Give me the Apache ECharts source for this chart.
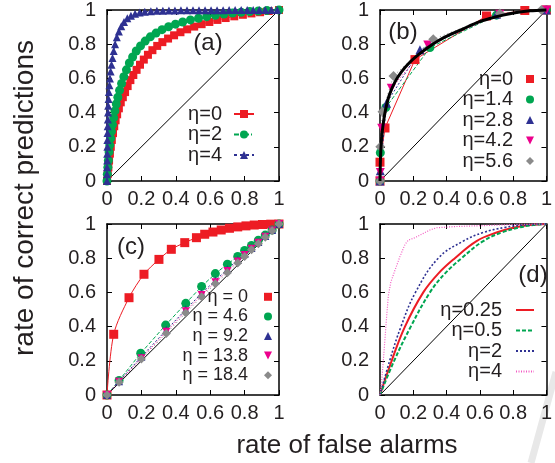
<!DOCTYPE html>
<html><head><meta charset="utf-8">
<script src="https://cdn.jsdelivr.net/npm/echarts@6/dist/echarts.min.js"></script>
<style>html,body{margin:0;padding:0;background:#fff}#c{width:555px;height:463px}</style>
</head><body><div id="c"></div>
<script>
// ---------- data ----------
const diag = [[0,0],[1,1]];
const ticks = [0, 0.2, 0.4, 0.6, 0.8, 1];

// panel (a)
const aNames = ['η=0', 'η=2', 'η=4'];
const aEta0 = [[0,0],[0.004,0.04],[0.008,0.08],[0.012,0.12],[0.017,0.16],[0.022,0.2],[0.028,0.24],[0.035,0.28],[0.042,0.32],[0.05,0.355],[0.059,0.39],[0.069,0.425],[0.08,0.46],[0.092,0.49],[0.105,0.52],[0.12,0.555],[0.136,0.59],[0.153,0.62],[0.172,0.65],[0.192,0.68],[0.214,0.71],[0.238,0.738],[0.264,0.765],[0.292,0.79],[0.322,0.812],[0.355,0.833],[0.39,0.852],[0.427,0.87],[0.466,0.887],[0.507,0.903],[0.55,0.917],[0.595,0.93],[0.642,0.942],[0.69,0.953],[0.74,0.963],[0.79,0.972],[0.84,0.98],[0.89,0.987],[0.94,0.994],[1,1]];
const aEta2 = [[0,0],[0.002,0.04],[0.005,0.08],[0.008,0.12],[0.012,0.17],[0.016,0.21],[0.021,0.25],[0.026,0.29],[0.032,0.33],[0.039,0.37],[0.046,0.41],[0.054,0.45],[0.063,0.49],[0.073,0.53],[0.085,0.57],[0.098,0.61],[0.113,0.65],[0.13,0.69],[0.149,0.725],[0.17,0.76],[0.195,0.79],[0.222,0.818],[0.252,0.843],[0.285,0.865],[0.32,0.885],[0.358,0.902],[0.398,0.917],[0.44,0.93],[0.485,0.942],[0.532,0.952],[0.58,0.961],[0.63,0.969],[0.68,0.976],[0.73,0.982],[0.78,0.987],[0.83,0.991],[0.88,0.994],[0.93,0.997],[1,1]];
const aEta4 = [[0,0],[0,0.04],[0,0.08],[0.001,0.12],[0.001,0.16],[0.002,0.2],[0.002,0.24],[0.003,0.28],[0.004,0.32],[0.005,0.36],[0.006,0.4],[0.007,0.44],[0.009,0.48],[0.011,0.52],[0.014,0.56],[0.017,0.6],[0.021,0.64],[0.026,0.68],[0.032,0.72],[0.039,0.76],[0.047,0.8],[0.057,0.84],[0.069,0.875],[0.083,0.905],[0.099,0.93],[0.118,0.952],[0.139,0.967],[0.163,0.978],[0.19,0.985],[0.22,0.99],[0.255,0.993],[0.29,0.995],[0.325,0.996],[0.36,0.997],[0.395,0.997],[0.43,0.998],[0.465,0.998],[0.5,0.998],[0.535,0.999],[0.57,0.999],[0.605,0.999],[0.64,0.999],[0.675,0.999],[0.71,1],[0.745,1],[0.78,1],[0.815,1],[0.85,1],[0.885,1],[0.92,1],[0.955,1],[0.99,1]];

// panel (b)
const bNames = ['η=0', 'η=1.4', 'η=2.8', 'η=4.2', 'η=5.6'];
const bEta0 = [[0,0],[0,0.11],[0.03,0.31],[0.21,0.71],[0.64,0.965],[0.87,0.997],[1,1]];
const bEta14 = [[0,0],[0.002,0.165],[0.035,0.43],[0.3,0.78],[0.7,0.97],[1,1]];
const bEta28 = [[0,0],[0.002,0.06],[0.039,0.454],[0.24,0.767],[0.7,0.975],[1,1]];
const bEta42 = [[0,0],[0.002,0.05],[0.01,0.308],[0.068,0.542],[0.287,0.795],[0.72,0.975],[1,1]];
const bEta56 = [[0,0],[0.002,0.2],[0.015,0.405],[0.081,0.614],[0.32,0.829],[0.72,0.98],[0.97,1]];
const bFit = [[0,0],[0.002,0.1],[0.006,0.2],[0.015,0.3],[0.03,0.4],[0.055,0.5],[0.09,0.58],[0.13,0.64],[0.175,0.69],[0.22,0.73],[0.28,0.775],[0.35,0.82],[0.43,0.86],[0.5,0.89],[0.58,0.925],[0.66,0.95],[0.74,0.97],[0.82,0.985],[0.9,0.995],[1,1]];

// panel (c)
const cNames = ['η = 0', 'η = 4.6', 'η = 9.2', 'η = 13.8', 'η = 18.4'];
const cEta0 = [[0,0],[0.039,0.355],[0.128,0.569],[0.215,0.706],[0.302,0.793],[0.374,0.852],[0.452,0.891],[0.52,0.92],[0.568,0.94],[0.616,0.953],[0.664,0.965],[0.712,0.975],[0.76,0.983],[0.808,0.989],[0.856,0.994],[0.904,0.997],[0.952,0.999],[1,1]];
const cEta46 = [[0,0],[0.07,0.085],[0.196,0.244],[0.341,0.409],[0.458,0.536],[0.55,0.635],[0.63,0.71],[0.7,0.765],[0.76,0.81],[0.8,0.845],[0.84,0.875],[0.88,0.905],[0.92,0.935],[0.96,0.965],[1,1]];
const cEta92 = [[0,0],[0.07,0.08],[0.2,0.224],[0.345,0.38],[0.458,0.5],[0.55,0.595],[0.63,0.67],[0.7,0.735],[0.76,0.79],[0.8,0.825],[0.84,0.86],[0.88,0.895],[0.92,0.93],[0.96,0.965],[1,1]];
const cEta138 = [[0,0],[0.07,0.078],[0.2,0.215],[0.345,0.37],[0.458,0.49],[0.55,0.585],[0.63,0.66],[0.7,0.725],[0.76,0.78],[0.8,0.818],[0.84,0.855],[0.88,0.89],[0.92,0.925],[0.96,0.962],[1,1]];
const cEta184 = [[0,0],[0.07,0.075],[0.2,0.21],[0.345,0.36],[0.458,0.48],[0.55,0.575],[0.63,0.65],[0.7,0.715],[0.76,0.772],[0.8,0.81],[0.84,0.85],[0.88,0.885],[0.92,0.922],[0.96,0.96],[1,1]];

// panel (d)
const dNames = ['η=0.25', 'η=0.5', 'η=2', 'η=4'];
const dEta025 = [[0,0],[0.07,0.2],[0.15,0.4],[0.26,0.6],[0.35,0.71],[0.45,0.8],[0.58,0.9],[0.7,0.95],[0.8,0.978],[0.9,0.994],[1,1]];
const dEta05 = [[0,0],[0.085,0.2],[0.185,0.4],[0.3,0.6],[0.39,0.71],[0.49,0.8],[0.62,0.9],[0.73,0.95],[0.83,0.978],[0.92,0.994],[1,1]];
const dEta2 = [[0,0],[0.058,0.2],[0.126,0.4],[0.213,0.6],[0.35,0.8],[0.5,0.9],[0.62,0.95],[0.75,0.98],[0.85,0.993],[1,1]];
const dEta4 = [[0,0],[0.01,0.08],[0.02,0.2],[0.03,0.33],[0.04,0.46],[0.05,0.58],[0.065,0.66],[0.09,0.73],[0.12,0.81],[0.15,0.88],[0.17,0.905],[0.21,0.92],[0.26,0.945],[0.3,0.965],[0.34,0.978],[0.45,0.985],[0.6,0.99],[0.8,0.997],[1,1]];

// ---------- styling / layout ----------
const FONT = '"Liberation Sans", Arial, Helvetica, sans-serif';
const TXT = '#231f20';
const RED = '#ed1c24', GREEN = '#00a651', BLUE = '#2e3192', MAG = '#ec008c', GRAY = '#8a8a8a', PINK = '#f45bc3';
const DIAMOND = 'path://M0,-1L1,0L0,1L-1,0Z';
const grids = [
  {left: 107, top: 10, width: 172, height: 171},
  {left: 380, top: 10, width: 172, height: 171},
  {left: 107, top: 224, width: 172, height: 171},
  {left: 380, top: 224, width: 172, height: 171}
];

const xAxes = [], yAxes = [];
grids.forEach((g, gi) => {
  const common = {gridIndex: gi, type: 'value', min: ticks[0], max: ticks[ticks.length-1], interval: ticks[1]-ticks[0],
    axisLine: {show: true, onZero: false, lineStyle: {color: '#000', width: 1.5}},
    axisTick: {show: true, inside: true, length: 5, lineStyle: {color: '#000', width: 1}},
    splitLine: {show: false}};
  xAxes.push(Object.assign({}, common, {position: 'bottom', axisLabel: {fontSize: 20, color: TXT, margin: 8, fontFamily: FONT}}));
  xAxes.push(Object.assign({}, common, {position: 'top', axisLabel: {show: false}}));
  yAxes.push(Object.assign({}, common, {position: 'left', axisLabel: {fontSize: 20, color: TXT, margin: 11, fontFamily: FONT}}));
  yAxes.push(Object.assign({}, common, {position: 'right', axisLabel: {show: false}}));
});

function ser(gi, name, data, o) {
  return Object.assign({
    type: 'line', name: name, data: data, xAxisIndex: gi*2, yAxisIndex: gi*2,
    clip: false, animation: false, showSymbol: true, showAllSymbol: true,
    symbol: 'none', symbolSize: 8,
    itemStyle: {color: o.color}, lineStyle: {color: o.color, width: o.width || 1, type: o.type || 'solid'},
    emphasis: {disabled: true}
  }, o.extra || {});
}
function diagSer(gi) {
  return ser(gi, 'diag' + gi, diag, {color: '#000', width: 1, extra: {silent: true, z: 1}});
}

const series = [
  diagSer(0), diagSer(1), diagSer(2), diagSer(3),
  // (a)
  ser(0, 'a:' + aNames[0], aEta0, {color: RED, extra: {symbol: 'rect', symbolSize: 8}}),
  ser(0, 'a:' + aNames[1], aEta2, {color: GREEN, type: [5, 2, 1, 2], extra: {symbol: 'circle', symbolSize: 9}}),
  ser(0, 'a:' + aNames[2], aEta4, {color: BLUE, type: [3, 3], extra: {symbol: 'triangle', symbolSize: 8}}),
  // (b)
  ser(1, 'b:' + bNames[0], bEta0, {color: RED, extra: {symbol: 'rect', symbolSize: 9}}),
  ser(1, 'b:' + bNames[1], bEta14, {color: GREEN, type: [4, 2], extra: {symbol: 'circle', symbolSize: 9}}),
  ser(1, 'b:' + bNames[2], bEta28, {color: BLUE, type: [2, 2], extra: {symbol: 'triangle', symbolSize: 9}}),
  ser(1, 'b:' + bNames[3], bEta42, {color: MAG, type: [1, 2], extra: {symbol: 'triangle', symbolRotate: 180, symbolSize: 9}}),
  ser(1, 'b:' + bNames[4], bEta56, {color: GRAY, type: [1, 3], extra: {symbol: DIAMOND, symbolSize: 10}}),
  ser(1, 'fit', bFit, {color: '#000', width: 3, extra: {smooth: 0.3, z: 5}}),
  // (c)
  ser(2, 'c:' + cNames[0], cEta0, {color: RED, extra: {symbol: 'rect', symbolSize: 9, smooth: 0.3}}),
  ser(2, 'c:' + cNames[1], cEta46, {color: GREEN, type: [4, 2], extra: {symbol: 'circle', symbolSize: 9}}),
  ser(2, 'c:' + cNames[2], cEta92, {color: BLUE, type: [2, 2], extra: {symbol: 'triangle', symbolSize: 8}}),
  ser(2, 'c:' + cNames[3], cEta138, {color: MAG, type: [1, 2], extra: {symbol: 'triangle', symbolRotate: 180, symbolSize: 8}}),
  ser(2, 'c:' + cNames[4], cEta184, {color: GRAY, type: [1, 3], extra: {symbol: DIAMOND, symbolSize: 9}}),
  // (d)
  ser(3, 'd:' + dNames[0], dEta025, {color: RED, width: 2, extra: {smooth: 0.4}}),
  ser(3, 'd:' + dNames[1], dEta05, {color: GREEN, width: 2, type: [4, 2], extra: {smooth: 0.4}}),
  ser(3, 'd:' + dNames[2], dEta2, {color: BLUE, width: 1.6, type: [2, 2], extra: {smooth: 0.4}}),
  ser(3, 'd:' + dNames[3], dEta4, {color: PINK, width: 1.2, type: [1, 1.5]})
];

function legendFor(prefix, names, o) {
  return Object.assign({
    data: names.map(n => prefix + n), orient: 'vertical', align: 'right', selectedMode: false,
    itemWidth: 20, itemHeight: 10, itemGap: 0.5, padding: 0,
    formatter: n => n.slice(2),
    textStyle: {fontSize: 20, color: TXT, fontFamily: FONT, lineHeight: 20, padding: [0, 7, 0, 0]}
  }, o);
}

const legends = [
  legendFor('a:', aNames, {right: 300, top: 104}),
  legendFor('b:', bNames, {right: 20, top: 69, itemWidth: 10, lineStyle: {width: 0}}),
  legendFor('c:', cNames, {right: 282, top: 287, itemWidth: 10, itemGap: 0, lineStyle: {width: 0},
    textStyle: {fontSize: 18, color: TXT, fontFamily: FONT, lineHeight: 19.6, padding: [0, 10, 0, 0]}}),
  legendFor('d:', dNames, {right: 20, top: 300, itemWidth: 18, itemStyle: {opacity: 0},
    textStyle: {fontSize: 20, color: TXT, fontFamily: FONT, lineHeight: 20, padding: [0, 9, 0, 0]}})
];

const txt = (text, x, y, size, extra) => Object.assign({type: 'text', x: x, y: y, silent: true,
  style: {text: text, fontSize: size, fontFamily: FONT, fill: TXT, textAlign: 'center', textVerticalAlign: 'middle'}}, extra || {});

const graphic = [
  txt('rate of correct predictions', 25, 198, 28, {rotation: Math.PI / 2}),
  txt('rate of false alarms', 347, 446, 26),
  txt('(a)', 208, 43, 24),
  txt('(b)', 403, 32, 24),
  txt('(c)', 131, 247, 24),
  txt('(d)', 533, 275, 24),
  {type: 'line', silent: true, z: -10, shape: {x1: 556, y1: 372, x2: 531, y2: 463}, style: {stroke: '#e8e8e8', lineWidth: 7}}
];

const chart = echarts.init(document.getElementById('c'), null, {renderer: 'canvas'});
chart.setOption({
  animation: false,
  backgroundColor: '#fff',
  grid: grids.map(g => Object.assign({containLabel: false}, g)),
  xAxis: xAxes, yAxis: yAxes,
  legend: legends,
  series: series,
  graphic: graphic
});
</script></body></html>
